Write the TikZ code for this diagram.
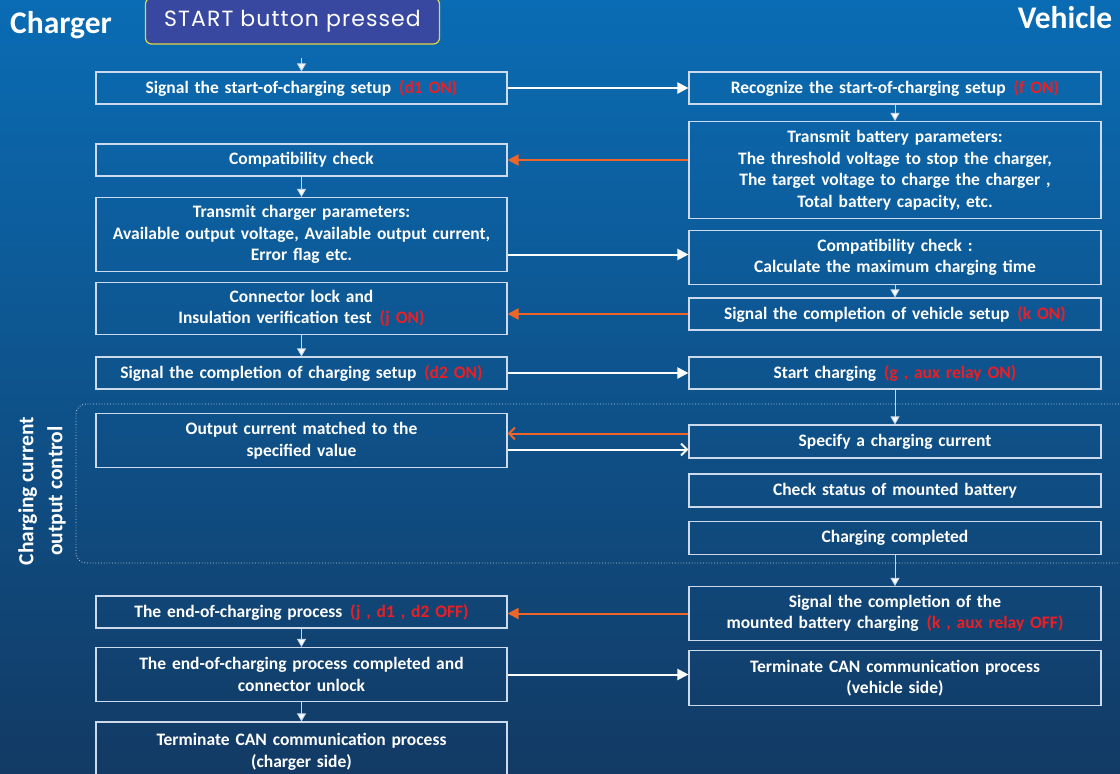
\documentclass[tikz,border=0pt]{standalone}
\usepackage{fontspec}
\setmainfont{Carlito}
\newfontfamily\startfont[LetterSpace=5]{Poppins}
\usetikzlibrary{arrows.meta}
\definecolor{bgtop}{RGB}{10,108,180}
\definecolor{bgbot}{RGB}{18,58,100}
\definecolor{boxline}{RGB}{205,218,235}
\definecolor{redlab}{RGB}{236,30,36}
\definecolor{orangearr}{RGB}{236,102,42}
\definecolor{startfill}{RGB}{56,72,160}
\definecolor{startline}{RGB}{222,216,72}
\newcommand{\rl}[1]{\hspace{0.45em}{\color{redlab}#1}}
\tikzset{
  cbox/.style={draw=boxline, line width=1.1pt, text=white, align=center,
    font=\bfseries\fontsize{17.5}{21.5}\selectfont, inner sep=0pt},
  lbox/.style={cbox, minimum width=411pt, text width=405pt},
  rbox/.style={cbox, minimum width=412pt, text width=405pt},
  hh/.style={minimum height=#1},
  vline/.style={draw={rgb,255:red,200;green,215;blue,232}, line width=0.9pt,
    -{Triangle[length=8pt,width=9pt,fill=white]}},
  hwhite/.style={draw=white, line width=2pt, -{Triangle[length=11pt,width=11pt]}},
  horange/.style={draw=orangearr, line width=2pt, -{Triangle[length=11pt,width=11pt]}},
  hwhiteopen/.style={draw=white, line width=2pt, -{Straight Barb[length=6pt,width=12pt,line width=2pt]}},
  horangeopen/.style={draw=orangearr, line width=2pt, -{Straight Barb[length=6pt,width=12pt,line width=2pt]}},
  title/.style={text=white, font=\bfseries\fontsize{31.5}{34}\selectfont, inner sep=0pt},
  region/.style={draw=white, draw opacity=0.75, line width=0.8pt, dotted, rounded corners=10pt},
}
\begin{document}
\begin{tikzpicture}[x=1pt,y=-1pt]
\shade[top color=bgtop, bottom color=bgbot] (0,0) rectangle (1120,774);
\useasboundingbox (0,0) rectangle (1120,774);

% titles
\node[title] (charger) at (61,25) {Charger};
\node[title] (vehicle) at (1065,18) {Vehicle};
\node[draw=startline, fill=startfill, line width=1.2pt, rounded corners=6pt,
  minimum width=294pt, minimum height=46pt, text=white,
  font=\startfont\fontsize{22}{24}\selectfont] (start) at (292.5,21) {START button pressed};

% region
\draw[region] (1130,404) -- (76,404) -- (76,563) -- (1130,563);
\node[text=white, rotate=90, align=center, inner sep=0pt,
  font=\bfseries\fontsize{21.5}{29}\selectfont] (sidelab) at (42,491) {Charging current\\output control};

% left column
\node[lbox, hh=32pt] (L1) at (301.5,88) {Signal the start-of-charging setup\rl{(d1 ON)}};
\node[lbox, hh=32pt] (L2) at (301.5,160) {Compatibility check};
\node[lbox, hh=74pt] (L3) at (301.5,234.5) {Transmit charger parameters:\\Available output voltage, Available output current,\\Error flag etc.};
\node[lbox, hh=52pt] (L4) at (301.5,308.5) {Connector lock and\\Insulation verification test\rl{(j ON)}};
\node[lbox, hh=32pt] (L5) at (301.5,373) {Signal the completion of charging setup\rl{(d2 ON)}};
\node[lbox, hh=54pt] (L6) at (301.5,440.5) {Output current matched to the\\specified value};
\node[lbox, hh=32pt] (L7) at (301.5,612) {The end-of-charging process\rl{(j , d1 , d2 OFF)}};
\node[lbox, hh=54pt] (L8) at (301.5,674.5) {The end-of-charging process completed and\\connector unlock};
\node[lbox, hh=60pt] (L9) at (301.5,752) {Terminate CAN communication process\\(charger side)};

% right column
\node[rbox, hh=32pt] (R1) at (895,88) {Recognize the start-of-charging setup\rl{(f ON)}};
\node[rbox, hh=97pt] (R2) at (895,170) {Transmit battery parameters:\\The threshold voltage to stop the charger,\\The target voltage to charge the charger ,\\Total battery capacity, etc.};
\node[rbox, hh=54pt] (R3) at (895,257.5) {Compatibility check :\\Calculate the maximum charging time};
\node[rbox, hh=32pt] (R4) at (895,314) {Signal the completion of vehicle setup\rl{(k ON)}};
\node[rbox, hh=32pt] (R5) at (895,373) {Start charging\rl{(g , aux relay ON)}};
\node[rbox, hh=33pt] (R6) at (895,441.5) {Specify a charging current};
\node[rbox, hh=33pt] (R7) at (895,490.5) {Check status of mounted battery};
\node[rbox, hh=33pt] (R8) at (895,538) {Charging completed};
\node[rbox, hh=54pt] (R9) at (895,613.5) {Signal the completion of the\\mounted battery charging\rl{(k , aux relay OFF)}};
\node[rbox, hh=55pt] (R10) at (895,678) {Terminate CAN communication process\\(vehicle side)};

% vertical arrows
\draw[vline] ([yshift=-13pt]L1.north |- start.south) -- (L1.north);
\draw[vline] (R1.south) -- (R2.north);
\draw[vline] (L2.south) -- (L3.north);
\draw[vline] (R3.south) -- (R4.north);
\draw[vline] (L4.south) -- (L5.north);
\draw[vline] (R5.south) -- (R6.north);
\draw[vline] (R8.south) -- (R9.north);
\draw[vline] (L7.south) -- (L8.north);
\draw[vline] (L8.south) -- (L9.north);

% horizontal arrows
\draw[hwhite] (L1.east) -- (R1.west);
\draw[horange] (R2.west |- L2.east) -- (L2.east);
\draw[hwhite] ([yshift=3pt]L3.east |- R3.west) -- ([yshift=3pt]R3.west);
\draw[horange] (R4.west) -- (L4.east |- R4.west);
\draw[hwhite] (L5.east) -- (R5.west);
\draw[horangeopen] ([yshift=8pt]R6.west) -- ([yshift=8pt]L6.east |- R6.west);
\draw[hwhiteopen] ([yshift=-9pt]L6.east) -- ([yshift=-9pt]R6.west |- L6.east);
\draw[horange] (R9.west) -- (L7.east |- R9.west);
\draw[hwhite] (L8.east) -- (R10.west |- L8.east);
\end{tikzpicture}
\end{document}
